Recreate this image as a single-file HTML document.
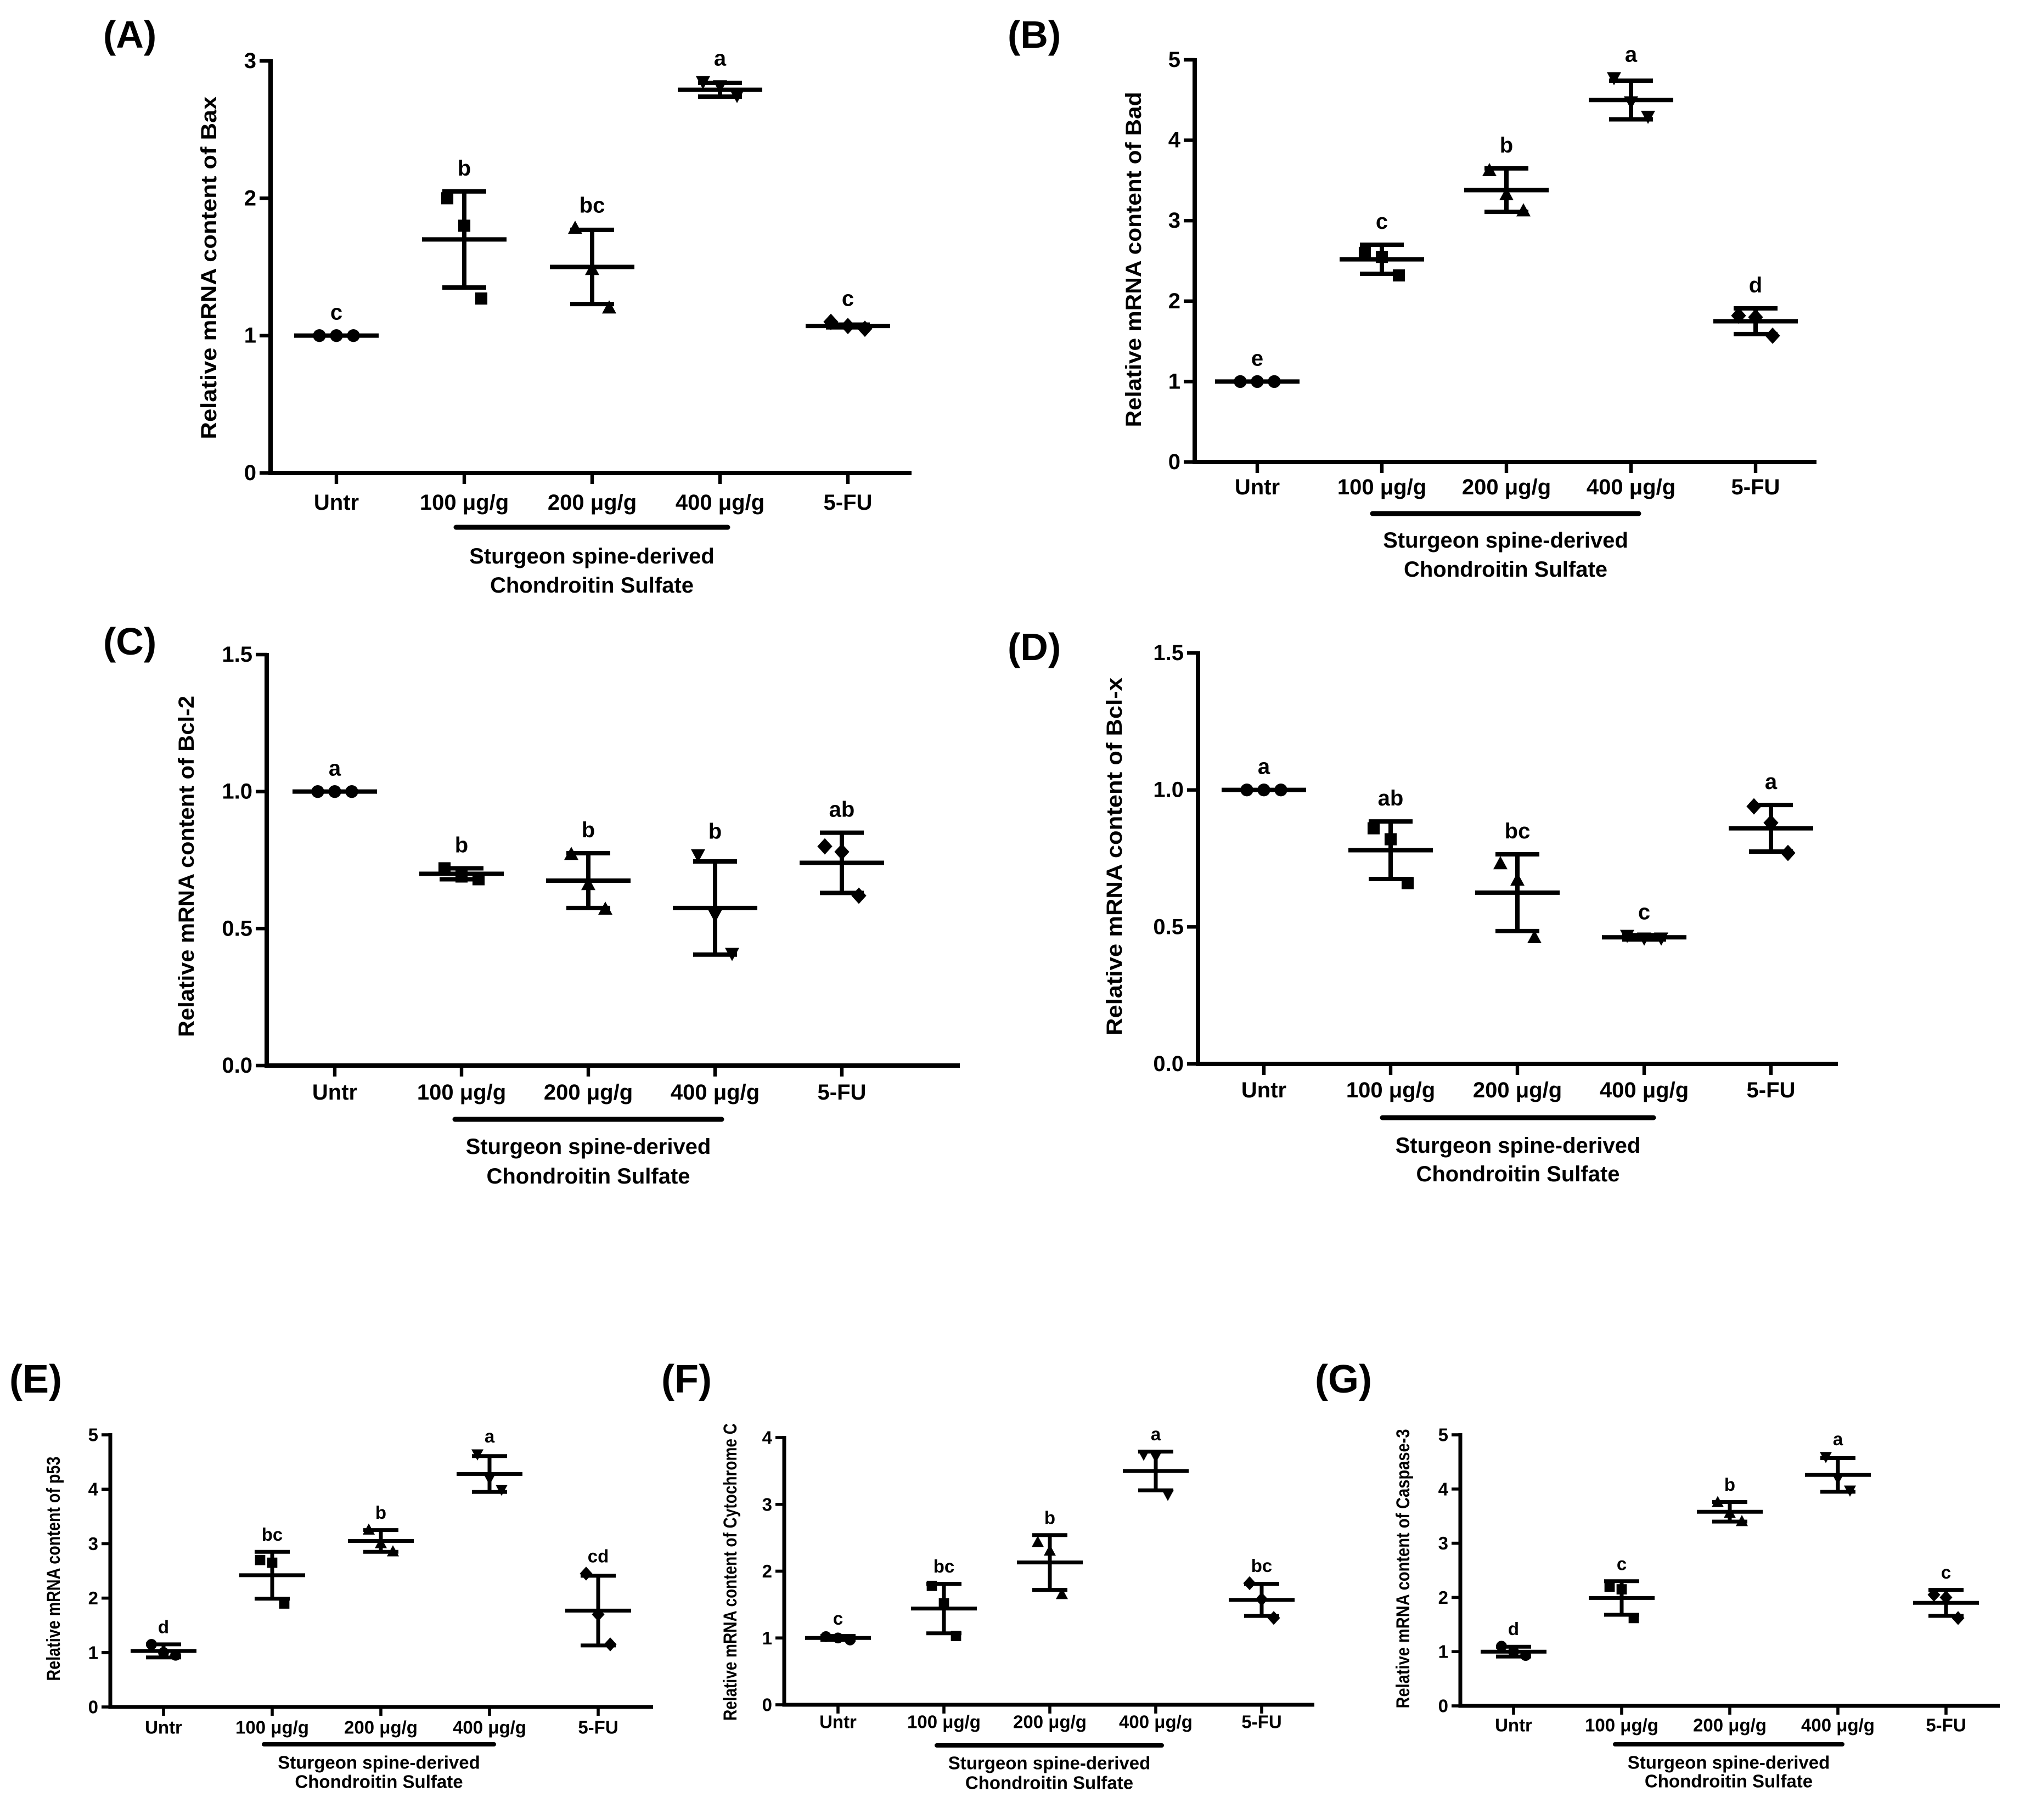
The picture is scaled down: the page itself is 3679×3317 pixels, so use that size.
<!DOCTYPE html>
<html><head><meta charset="utf-8">
<style>
html,body{margin:0;padding:0;background:#fff;}
svg{display:block;font-family:"Liberation Sans",Arial,sans-serif;font-weight:bold;}
</style></head>
<body>
<svg id="fig" width="3679" height="3317" viewBox="0 0 3679 3317" xmlns="http://www.w3.org/2000/svg">
<rect width="3679" height="3317" fill="#fff"/>
</svg>
<script>
// ---- data ----
const categories = ["Untr","100 μg/g","200 μg/g","400 μg/g","5-FU"];

const baxPoints = [[1,1,1],[2.0,1.8,1.27],[1.78,1.48,1.2],[2.85,2.82,2.75],[1.1,1.07,1.05]];
const baxMean = [1,1.70,1.50,2.79,1.07];
const baxSD = [0,0.35,0.27,0.05,0.01];
const baxLetters = ["c","b","bc","a","c"];

const badPoints = [[1,1,1],[2.6,2.55,2.32],[3.62,3.32,3.12],[4.78,4.48,4.3],[1.82,1.8,1.57]];
const badMean = [1,2.52,3.38,4.5,1.75];
const badSD = [0,0.18,0.27,0.24,0.16];
const badLetters = ["e","c","b","a","d"];

const bcl2Points = [[1,1,1],[0.72,0.69,0.68],[0.77,0.66,0.57],[0.77,0.55,0.41],[0.8,0.78,0.62]];
const bcl2Mean = [1,0.70,0.675,0.575,0.74];
const bcl2SD = [0,0.02,0.1,0.17,0.11];
const bcl2Letters = ["a","b","b","b","ab"];

const bclxPoints = [[1,1,1],[0.86,0.82,0.66],[0.73,0.67,0.46],[0.47,0.46,0.46],[0.94,0.88,0.77]];
const bclxMean = [1,0.78,0.625,0.462,0.86];
const bclxSD = [0,0.105,0.14,0.008,0.085];
const bclxLetters = ["a","ab","bc","c","a"];

const p53Points = [[1.15,1.0,0.95],[2.7,2.65,1.9],[3.25,3.0,2.85],[4.65,4.2,4.0],[2.45,1.7,1.15]];
const p53Mean = [1.03,2.42,3.05,4.28,1.77];
const p53SD = [0.12,0.43,0.2,0.33,0.64];
const p53Letters = ["d","bc","b","a","cd"];

const cytPoints = [[1.02,1.0,0.97],[1.78,1.52,1.03],[2.43,2.3,1.65],[3.75,3.72,3.15],[1.82,1.58,1.3]];
const cytMean = [1.0,1.44,2.13,3.5,1.57];
const cytSD = [0.03,0.37,0.41,0.29,0.24];
const cytLetters = ["c","bc","b","a","bc"];

const caspPoints = [[1.1,1.0,0.93],[2.2,2.15,1.62],[3.75,3.55,3.4],[4.6,4.2,3.98],[2.05,2.0,1.62]];
const caspMean = [1.0,1.99,3.58,4.26,1.9];
const caspSD = [0.09,0.31,0.18,0.31,0.24];
const caspLetters = ["d","c","b","a","c"];

const yTicksA = [0,1,2,3];
const yTicksB = [0,1,2,3,4,5];
const yTicksC = [0,0.5,1.0,1.5];
const yTicksF = [0,1,2,3,4];

// ---- layout ----
const NS = "http://www.w3.org/2000/svg";
const svg = document.getElementById("fig");
function el(tag, attrs, parent){const e=document.createElementNS(NS,tag);for(const k in attrs)e.setAttribute(k,attrs[k]);(parent||svg).appendChild(e);return e;}

const panels = [
 {id:"a",label:"(A)",lx:188,ly:63,ax:493,ex:1661,y0:862,y1:111,ymax:3,ticks:yTicksA,dec:0,t0:613,dx:233,labY:916,brY:961,br:[831,1326],s1:1014,s2:1067,ytx:381,yty:488,ytl:625,title:"Relative mRNA content of Bax",pts:baxPoints,mean:baxMean,sd:baxSD,let:baxLetters,big:true},
 {id:"b",label:"(B)",lx:1836,ly:63,ax:2177,ex:3310,y0:842,y1:109,ymax:5,ticks:yTicksB,dec:0,t0:2291,dx:227,labY:888,brY:936,br:[2501,2986],s1:985,s2:1038,ytx:2066,yty:473,ytl:611,title:"Relative mRNA content of Bad",pts:badPoints,mean:badMean,sd:badSD,let:badLetters,big:true},
 {id:"c",label:"(C)",lx:188,ly:1169,ax:486,ex:1749,y0:1942,y1:1193,ymax:1.5,ticks:yTicksC,dec:1,t0:610,dx:231,labY:1991,brY:2040,br:[829,1315],s1:2090,s2:2144,ytx:340,yty:1579,ytl:622,title:"Relative mRNA content of Bcl-2",pts:bcl2Points,mean:bcl2Mean,sd:bcl2SD,let:bcl2Letters,big:true},
 {id:"d",label:"(D)",lx:1836,ly:1179,ax:2183,ex:3349,y0:1939,y1:1190,ymax:1.5,ticks:yTicksC,dec:1,t0:2303,dx:231,labY:1987,brY:2037,br:[2519,3013],s1:2088,s2:2140,ytx:2031,yty:1561,ytl:652,title:"Relative mRNA content of Bcl-x",pts:bclxPoints,mean:bclxMean,sd:bclxSD,let:bclxLetters,big:true},
 {id:"e",label:"(E)",lx:17,ly:2514,ax:201,ex:1190,y0:3111,y1:2615,ymax:5,ticks:yTicksB,dec:0,t0:298,dx:198,labY:3148,brY:3179,br:[481,900],s1:3212,s2:3247,ytx:98,yty:2859,ytl:409,title:"Relative mRNA content of p53",pts:p53Points,mean:p53Mean,sd:p53SD,let:p53Letters,big:false},
 {id:"f",label:"(F)",lx:1205,ly:2514,ax:1429,ex:2395,y0:3107,y1:2620,ymax:4,ticks:yTicksF,dec:0,t0:1527,dx:193,labY:3138,brY:3181,br:[1707,2117],s1:3213,s2:3249,ytx:1331,yty:2865,ytl:542,title:"Relative mRNA content of Cytochrome C",pts:cytPoints,mean:cytMean,sd:cytSD,let:cytLetters,big:false},
 {id:"g",label:"(G)",lx:2396,ly:2514,ax:2661,ex:3644,y0:3109,y1:2615,ymax:5,ticks:yTicksB,dec:0,t0:2758,dx:197,labY:3144,brY:3179,br:[2943,3357],s1:3212,s2:3246,ytx:2557,yty:2859,ytl:509,title:"Relative mRNA content of Caspase-3",pts:caspPoints,mean:caspMean,sd:caspSD,let:caspLetters,big:false}
];

function marker(g, shape, x, y, r){
  let m;
  if(shape===0) m=el("circle",{cx:x,cy:y,r:r*0.9,fill:"#000"},g);
  else if(shape===1) m=el("rect",{x:x-r*0.85,y:y-r*0.85,width:r*1.7,height:r*1.7,fill:"#000"},g);
  else if(shape===2) m=el("polygon",{points:`${x},${y-r*1.1} ${x-r},${y+r*0.75} ${x+r},${y+r*0.75}`,fill:"#000"},g);
  else if(shape===3) m=el("polygon",{points:`${x},${y+r*1.1} ${x-r},${y-r*0.75} ${x+r},${y-r*0.75}`,fill:"#000"},g);
  else m=el("polygon",{points:`${x},${y-r*1.15} ${x+r*1.05},${y} ${x},${y+r*1.15} ${x-r*1.05},${y}`,fill:"#000"},g);
  
  
}

panels.forEach(p=>{
  const fs = p.big?40:33, lw = p.big?8:7, tl = p.big?20:16, ms = p.big?13:11;
  const jit = p.big?31:22, half = p.big?77:60, cap = p.big?40:32;
  const g = el("g",{});
  
  
  const yS = v => p.y0 - (v/p.ymax)*(p.y0-p.y1);
  const xS = i => p.t0 + i*p.dx;

  const t = el("text",{x:p.lx,y:p.ly,"font-size":p.big?70:72,"dominant-baseline":"central"},g);
  t.textContent=p.label;
  
  

  const ya = el("line",{x1:p.ax,y1:p.y1-3,x2:p.ax,y2:p.y0+lw/2,stroke:"#000","stroke-width":lw},g);
  
  
  const xa = el("line",{x1:p.ax-lw/2,y1:p.y0,x2:p.ex,y2:p.y0,stroke:"#000","stroke-width":lw},g);
  
  

  p.ticks.forEach(v=>{
    const y=yS(v);
    el("line",{x1:p.ax-tl,y1:y,x2:p.ax,y2:y,stroke:"#000","stroke-width":lw*0.8},g);
    const tt=el("text",{x:p.ax-tl-6,y:y,"font-size":fs,"text-anchor":"end","dominant-baseline":"central"},g);
    tt.textContent = v.toFixed(p.dec);
    
    
  });
  categories.forEach((c,i)=>{
    const x=xS(i);
    el("line",{x1:x,y1:p.y0,x2:x,y2:p.y0+tl,stroke:"#000","stroke-width":lw*0.8},g);
    const tt=el("text",{x:x,y:p.labY,"font-size":fs,"text-anchor":"middle","dominant-baseline":"central"},g);
    tt.textContent=c;
    
    
  });
  const br = el("line",{x1:p.br[0],y1:p.brY,x2:p.br[1],y2:p.brY,stroke:"#000","stroke-width":lw+1,"stroke-linecap":"round"},g);
  
  
  const cx=(p.br[0]+p.br[1])/2;
  const s1=el("text",{x:cx,y:p.s1,"font-size":fs,"text-anchor":"middle","dominant-baseline":"central"},g);
  s1.textContent="Sturgeon spine-derived";
  
  
  const s2=el("text",{x:cx,y:p.s2,"font-size":fs,"text-anchor":"middle","dominant-baseline":"central"},g);
  s2.textContent="Chondroitin Sulfate";
  
  

  const yt=el("text",{x:0,y:0,"font-size":p.big?40:34,"text-anchor":"middle","dominant-baseline":"central",textLength:p.ytl,lengthAdjust:"spacingAndGlyphs",transform:`translate(${p.ytx},${p.yty}) rotate(-90)`},g);
  yt.textContent=p.title;
  
  

  categories.forEach((c,i)=>{
    const x=xS(i);
    const pts=p.pts[i];
    pts.forEach((v,j)=>marker(g,i,x+(j-1)*jit,yS(v),ms));
    const m=p.mean[i], s=p.sd[i];
    const ml=el("line",{x1:x-half,y1:yS(m),x2:x+half,y2:yS(m),stroke:"#000","stroke-width":lw},g);
    
    
    if(s>0){
      const eb=el("path",{d:`M${x},${yS(m+s)}V${yS(m-s)}M${x-cap},${yS(m+s)}H${x+cap}M${x-cap},${yS(m-s)}H${x+cap}`,stroke:"#000","stroke-width":lw,fill:"none"},g);
      
      
    }
    const topv=Math.max(m+s,...pts);
    const lt=el("text",{x:x,y:yS(topv)-(p.big?42:32),"font-size":fs,"text-anchor":"middle","dominant-baseline":"central"},g);
    lt.textContent=p.let[i];
    
    
  });
});
</script>
</body></html>
